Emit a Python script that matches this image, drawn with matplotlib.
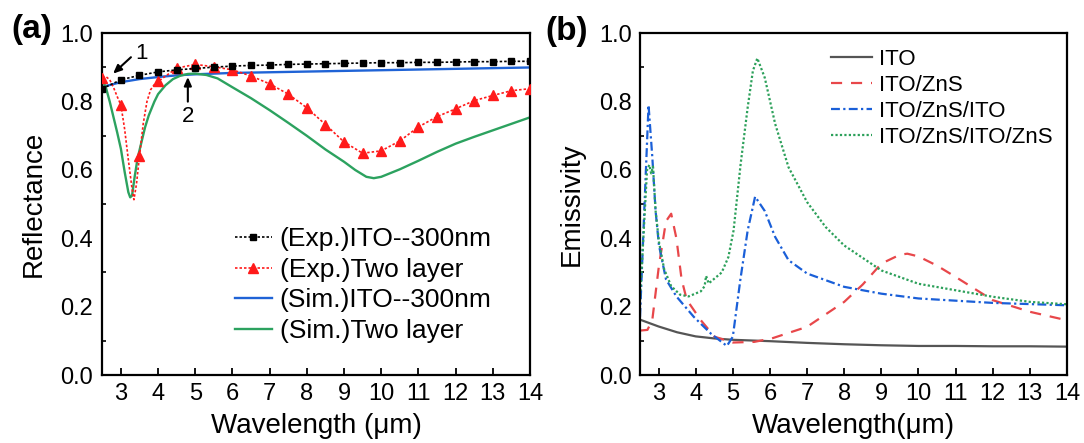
import matplotlib
matplotlib.use("Agg")
import matplotlib.pyplot as plt
from matplotlib.ticker import MultipleLocator, FixedLocator

plt.rcParams['font.family'] = ['Liberation Sans', 'DejaVu Sans']

# ---------------- Panel (a) data ----------------
exp_ito_x = [2.5, 3.0, 3.5, 4.0, 4.5, 5.0, 5.5, 6.0, 6.5, 7.0, 7.5, 8.0, 8.5, 9.0,
             9.5, 10.0, 10.5, 11.0, 11.5, 12.0, 12.5, 13.0, 13.5, 14.0]
exp_ito_y = [0.838, 0.864, 0.877, 0.887, 0.893, 0.897, 0.901, 0.904, 0.906, 0.907,
             0.909, 0.910, 0.911, 0.912, 0.913, 0.914, 0.914, 0.915, 0.915, 0.916,
             0.917, 0.917, 0.918, 0.918]

exp_two_x = [2.5, 2.6, 2.7, 2.8, 2.9, 3.0, 3.1, 3.2, 3.3, 3.35, 3.42, 3.5, 3.6, 3.7,
             3.8, 3.9, 4.0, 4.5, 5.0, 5.5, 6.0, 6.5, 7.0, 7.5, 8.0, 8.5, 9.0, 9.5,
             10.0, 10.5, 11.0, 11.5, 12.0, 12.5, 13.0, 13.5, 14.0]
exp_two_y = [0.869, 0.873, 0.864, 0.842, 0.815, 0.790, 0.720, 0.630, 0.545, 0.513,
             0.560, 0.641, 0.735, 0.800, 0.835, 0.850, 0.859, 0.898, 0.909, 0.902,
             0.893, 0.875, 0.852, 0.822, 0.782, 0.733, 0.682, 0.649, 0.656, 0.685,
             0.726, 0.756, 0.779, 0.803, 0.818, 0.832, 0.838]

sim_ito_x = [2.5, 3.0, 3.5, 4.0, 4.5, 5.0, 6.0, 7.0, 8.0, 9.0, 10.0, 11.0, 12.0, 13.0, 14.0]
sim_ito_y = [0.843, 0.857, 0.866, 0.872, 0.877, 0.880, 0.884, 0.886, 0.888, 0.890,
             0.892, 0.894, 0.896, 0.898, 0.900]

sim_two_x = [2.5, 2.6, 2.7, 2.8, 2.9, 3.0, 3.1, 3.2, 3.25, 3.3, 3.37, 3.45, 3.55,
             3.65, 3.75, 3.9, 4.0, 4.2, 4.4, 4.6, 4.8, 5.0, 5.3, 5.6, 6.0, 6.5, 7.0,
             7.5, 8.0, 8.5, 9.0, 9.3, 9.6, 9.8, 10.0, 10.5, 11.0, 11.5, 12.0, 12.5,
             13.0, 13.5, 14.0]
sim_two_y = [0.865, 0.840, 0.800, 0.755, 0.710, 0.662, 0.595, 0.535, 0.520, 0.525,
             0.580, 0.635, 0.680, 0.725, 0.760, 0.800, 0.822, 0.848, 0.866, 0.876,
             0.881, 0.882, 0.878, 0.868, 0.842, 0.810, 0.775, 0.738, 0.700, 0.660,
             0.624, 0.600, 0.580, 0.576, 0.580, 0.602, 0.627, 0.653, 0.677, 0.697,
             0.716, 0.735, 0.754]

# ---------------- Panel (b) data ----------------
ito_x = [2.5, 3.0, 3.5, 4.0, 4.5, 5.0, 6.0, 7.0, 8.0, 9.0, 10.0, 11.0, 12.0, 13.0, 14.0]
ito_y = [0.162, 0.142, 0.125, 0.113, 0.107, 0.103, 0.099, 0.094, 0.090, 0.087,
         0.085, 0.085, 0.084, 0.084, 0.083]

zns_x = [2.5, 2.7, 2.83, 3.01, 3.2, 3.34, 3.48, 3.62, 3.76, 4.14, 4.51, 5.0, 5.58,
         6.05, 7.0, 8.0, 8.5, 9.0, 9.5, 9.7, 10.0, 10.5, 11.0, 12.0, 13.0, 14.0]
zns_y = [0.130, 0.132, 0.160, 0.320, 0.450, 0.472, 0.400, 0.280, 0.220, 0.160,
         0.112, 0.095, 0.097, 0.107, 0.141, 0.214, 0.265, 0.326, 0.352, 0.355,
         0.347, 0.320, 0.287, 0.219, 0.185, 0.160]

izi_x = [2.5, 2.6, 2.73, 2.83, 2.92, 3.01, 3.2, 3.48, 3.95, 4.42, 4.84, 5.0, 5.2,
         5.4, 5.6, 5.86, 6.14, 6.5, 7.0, 8.0, 9.0, 10.0, 12.0, 14.0]
izi_y = [0.170, 0.440, 0.790, 0.640, 0.480, 0.380, 0.280, 0.230, 0.170, 0.120,
         0.085, 0.112, 0.277, 0.423, 0.522, 0.480, 0.404, 0.336, 0.297, 0.258,
         0.238, 0.224, 0.211, 0.204]

izz_x = [2.5, 2.6, 2.69, 2.75, 2.8, 2.85, 2.92, 3.01, 3.15, 3.34, 3.58, 3.81, 4.14,
         4.24, 4.28, 4.35, 4.7, 4.88, 5.02, 5.21, 5.4, 5.54, 5.66, 5.86, 6.14, 6.5,
         7.0, 7.5, 8.0, 9.0, 10.0, 11.0, 12.0, 13.0, 14.0]
izz_y = [0.220, 0.420, 0.600, 0.615, 0.590, 0.610, 0.480, 0.390, 0.310, 0.260,
         0.235, 0.230, 0.245, 0.260, 0.290, 0.268, 0.300, 0.345, 0.423, 0.617,
         0.783, 0.890, 0.927, 0.870, 0.735, 0.608, 0.506, 0.433, 0.379, 0.306,
         0.267, 0.248, 0.229, 0.214, 0.207]

xticks = list(range(3, 15))

W, H = 1084, 443
fig = plt.figure(figsize=(W / 100, H / 100), dpi=100)
ax1 = fig.add_axes([102.3 / W, 1 - 375 / H, 427.7 / W, 341.7 / H])
ax2 = fig.add_axes([640 / W, 1 - 375 / H, 427 / W, 341.7 / H])

# ---- panel (a) ----
ax1.plot(exp_ito_x, exp_ito_y, color='black', ls=(0, (1.5, 1.2)), lw=1.2,
         marker='s', ms=5, label='(Exp.)ITO--300nm', zorder=4)
marks = [i for i, v in enumerate(exp_two_x) if abs(v * 2 - round(v * 2)) < 1e-9]
ax1.plot(exp_two_x, exp_two_y, color='#ff1a1a', ls=(0, (1.5, 1.2)), lw=1.2,
         marker='^', ms=6.5, markevery=marks, label='(Exp.)Two layer', zorder=3)
ax1.plot(sim_ito_x, sim_ito_y, color='#1f63d6', lw=1.7, label='(Sim.)ITO--300nm', zorder=2)
ax1.plot(sim_two_x, sim_two_y, color='#2ca25f', lw=1.7, label='(Sim.)Two layer', zorder=2)

ax1.annotate('', xy=(2.79, 0.882), xytext=(3.27, 0.930),
             arrowprops=dict(arrowstyle='-|>,head_length=0.5,head_width=0.22',
                             color='black', lw=1.5, shrinkA=0, shrinkB=0))
ax1.text(3.55, 0.941, '1', fontsize=16, ha='center', va='center')
ax1.annotate('', xy=(4.80, 0.872), xytext=(4.80, 0.800),
             arrowprops=dict(arrowstyle='-|>,head_length=0.5,head_width=0.22',
                             color='black', lw=1.5, shrinkA=0, shrinkB=0))
ax1.text(4.80, 0.756, '2', fontsize=16, ha='center', va='center')

ax1.set_ylabel('Reflectance', fontsize=20)
ax1.set_xlabel('Wavelength (μm)', fontsize=20)
leg1 = ax1.legend(loc='center left', bbox_to_anchor=(0.31, 0.263), frameon=False,
                  fontsize=19, handlelength=1.4, handletextpad=0.3, labelspacing=0.25,
                  borderpad=0, borderaxespad=0, numpoints=1)

# ---- panel (b) ----
ax2.plot(ito_x, ito_y, color='#555555', lw=1.6, label='ITO')
ax2.plot(zns_x, zns_y, color='#e8474a', lw=1.6, ls=(0, (5, 4)), label='ITO/ZnS')
ax2.plot(izi_x, izi_y, color='#1a5fd8', lw=1.6, ls=(0, (4, 1.5, 1, 1.5)), label='ITO/ZnS/ITO')
ax2.plot(izz_x, izz_y, color='#2ca05a', lw=1.6, ls=(0, (1, 1)), label='ITO/ZnS/ITO/ZnS')
ax2.set_ylabel('Emissivity', fontsize=20)
ax2.set_xlabel('Wavelength(μm)', fontsize=20)
leg2 = ax2.legend(loc='center left', bbox_to_anchor=(0.447, 0.81), frameon=False,
                  fontsize=16, handlelength=1.85, handletextpad=0.3, labelspacing=0.22,
                  borderpad=0, borderaxespad=0)

for ax, ypad in ((ax1, 7), (ax2, 5.5)):
    ax.set_xlim(2.5, 14)
    ax.set_ylim(0, 1.0)
    ax.xaxis.set_major_locator(FixedLocator(xticks))
    ax.yaxis.set_major_locator(MultipleLocator(0.2))
    ax.yaxis.set_minor_locator(FixedLocator([0.1, 0.3, 0.5, 0.7, 0.9]))
    ax.tick_params(axis='x', which='major', direction='in', length=5, width=1.3,
                   labelsize=17, pad=5.5)
    ax.tick_params(axis='y', which='major', direction='in', length=0,
                   labelsize=17, pad=ypad)
    ax.tick_params(axis='y', which='minor', direction='in', length=3, width=1.2)
    ax.tick_params(top=False, right=False)
    for s in ax.spines.values():
        s.set_linewidth(1.6)
    ax.yaxis.set_label_coords(-0.13, 0.5)
    ax.xaxis.set_label_coords(0.5, -0.11)
    ax.yaxis.set_major_formatter(matplotlib.ticker.FormatStrFormatter('%.1f'))

fig.text(11 / W, 1 - 38 / H, '(a)', fontsize=24, fontweight='bold', va='baseline')
fig.text(545 / W, 1 - 40 / H, '(b)', fontsize=24, fontweight='bold', va='baseline')

fig.savefig('out.png', dpi=100)
